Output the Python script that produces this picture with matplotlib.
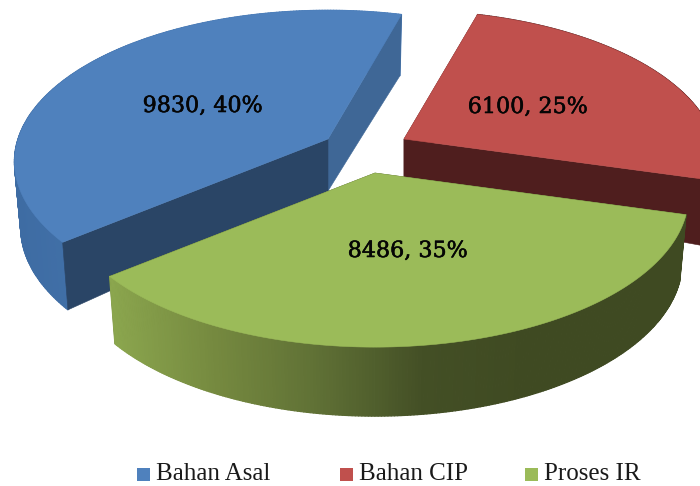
import numpy as np
import matplotlib
matplotlib.use("Agg")
import matplotlib.pyplot as plt
import matplotlib.patheffects as pe
from matplotlib.collections import PolyCollection
from matplotlib.colors import LinearSegmentedColormap
from matplotlib.patches import Polygon, Rectangle

categories = ["Bahan Asal", "Bahan CIP", "Proses IR"]
values = [9830, 6100, 8486]
percent_labels = ["40%", "25%", "35%"]

top_colors = ["#4F81BD", "#C0504D", "#9BBB59"]
apex = [(328, 139), (404, 139), (375, 173)]
label_pos = [(203, 106), (528, 107), (408, 251)]
legend_x = [137, 340, 525]
faces_over_wall = [True, True, False]
START = 219.2
A, B, P = 310, 148, 0.15
outer_cmaps = [
    LinearSegmentedColormap.from_list("b", ["#3E6CA3", "#4878B2", "#4F81BD"]),
    LinearSegmentedColormap.from_list("r", ["#5A2423", "#5A2423"]),
    LinearSegmentedColormap.from_list("g", ["#8BA64E", "#75893F", "#5F7035", "#434F25", "#3F4A22"]),
]
front_colors = ["#2A4566", "#4F1E1E", "#3F4A22"]
back_colors = ["#3F6796", "#4F1E1E", "#3F4A22"]


def project(c, theta, r=1.0, lower=False):
    X, Y = r * np.cos(theta), r * np.sin(theta)
    den = 1 + P * Y
    x, y = A * X / den, -B * Y / den
    if lower:
        x = x * 0.98
        y = y + 52 + r * (13 - 4 * np.sin(theta))
    return np.column_stack([c[0] + x, c[1] + y])


fig = plt.figure(figsize=(7, 4.86), dpi=100)
ax = fig.add_axes([0, 0, 1, 1])
ax.set_xlim(0, 700)
ax.set_ylim(486, 0)
ax.axis("off")

fractions = np.array(values) / np.sum(values)
a0 = np.radians(START)
for i, (f, c) in enumerate(zip(fractions, apex)):
    a1 = a0 - 2 * np.pi * f
    th = np.linspace(a0, a1, 240)
    top = project(c, th)
    low = project(c, th, lower=True)
    rs = np.linspace(0, 1, 20)

    def radial(angle, lower):
        return np.vstack([project(c, np.array([angle]), r, lower) for r in rs])

    face_z = i * 4 + (3 if faces_over_wall[i] else 1)
    for angle, col in ((a1, back_colors[i]), (a0, front_colors[i])):
        face = np.vstack([radial(angle, False), radial(angle, True)[::-1]])
        ax.add_patch(Polygon(face, closed=True, fc=col, ec=col, lw=0.4, zorder=face_z))

    quads = [[top[k], top[k + 1], low[k + 1], low[k]] for k in range(len(th) - 1)]
    xm = top[:-1, 0]
    shade = np.clip((xm - xm.min()) / max(xm.max() - xm.min(), 1), 0, 1)
    if i == 2:
        shade = np.clip((xm - 110) / 420, 0, 1)
    cols = outer_cmaps[i](shade)
    ax.add_collection(PolyCollection(quads, facecolors=cols, edgecolors=cols, linewidths=0.9, zorder=i * 4 + 2))

    outline = np.vstack([[c], top])
    ax.add_patch(Polygon(outline, closed=True, fc=top_colors[i], ec=top_colors[i], lw=0.4, zorder=i * 4 + 4))

    ax.text(*label_pos[i], f"{values[i]}, {percent_labels[i]}", family="DejaVu Serif", fontsize=16,
            color="#050505", ha="center", va="center", zorder=30,
            path_effects=[pe.withStroke(linewidth=0.4, foreground="#050505")])
    a0 = a1

for x, name, col in zip(legend_x, categories, top_colors):
    ax.add_patch(Rectangle((x, 468), 13, 13, fc=col, ec="none", zorder=30))
    ax.text(x + 19, 480, name, family="Liberation Serif", fontsize=18, color="#1a1a1a",
            ha="left", va="baseline", zorder=30)

fig.savefig("out.png", dpi=100)
